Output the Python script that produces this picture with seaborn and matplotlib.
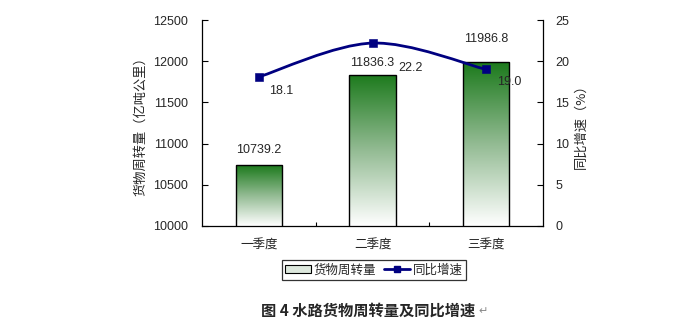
import numpy as np
import pandas as pd
import matplotlib
matplotlib.use("Agg")
import matplotlib.pyplot as plt
import seaborn as sns
from matplotlib.path import Path
from matplotlib.patches import PathPatch, Patch
from matplotlib.lines import Line2D
from matplotlib.colors import LinearSegmentedColormap

categories = ["一季度", "二季度", "三季度"]
volume = [10739.2, 11836.3, 11986.8]
growth = [18.1, 22.2, 19.0]
left_ticks = [10000, 10500, 11000, 11500, 12000, 12500]
right_ticks = [0, 5, 10, 15, 20, 25]

sns.set_theme(style="white")
plt.rcParams['font.family'] = ['Liberation Sans', 'Noto Sans CJK SC', 'DejaVu Sans']
cjk = ['Noto Sans CJK SC', 'DejaVu Sans']

fig = plt.figure(figsize=(6.82, 3.29), dpi=100)
ax = fig.add_axes([0.2962, 0.3131, 0.5, 0.6261])

df = pd.DataFrame({"cat": categories, "vol": volume})
sns.barplot(data=df, x="cat", y="vol", ax=ax, width=0.41, color="white",
            edgecolor="black", linewidth=1.0, zorder=2)
ax.set_ylim(10000, 12500)
ax.set_xlim(-0.5, 2.5)

cmap = LinearSegmentedColormap.from_list("g", ["#ffffff", "#93bb93", "#1c7a1c"])
grad = np.linspace(0, 1, 256).reshape(-1, 1)
for p in ax.patches:
    x0, w = p.get_x(), p.get_width()
    top = p.get_y() + p.get_height()
    im = ax.imshow(grad, extent=[x0, x0 + w, 10000, top], origin="lower",
                   aspect="auto", cmap=cmap, zorder=2.5)
    im.set_clip_path(p)
    p.set_facecolor("none")
    p.set_zorder(3)
ax.set_xlim(-0.5, 2.5)
ax.set_ylim(10000, 12500)

ax.set_yticks(left_ticks)
ax.set_yticklabels([str(t) for t in left_ticks], fontsize=9)
ax.tick_params(axis="y", direction="in", length=4, width=0.8, color="black", pad=10, left=True)
ax.set_xticks(range(len(categories)))
ax.set_xticklabels(categories, fontsize=9, family=cjk)
ax.tick_params(axis="x", length=0, pad=9)
ax.set_xticks([0.5, 1.5], minor=True)
ax.tick_params(axis="x", which="minor", direction="in", length=3, width=0.8, color="black", bottom=True)
ax.set_xlabel("")
ax.set_ylabel("货物周转量（亿吨公里）", fontsize=9.5, family=cjk, labelpad=4)
for s in ["left", "bottom"]:
    ax.spines[s].set_color("black"); ax.spines[s].set_linewidth(0.9)
ax.spines["top"].set_visible(False)
ax.spines["right"].set_visible(False)

bar_off = [15, 12, 23]
for i, v in enumerate(volume):
    ax.annotate(f"{v:.1f}", (i, v), xytext=(0, bar_off[i]), textcoords="offset pixels",
                ha="center", va="center", fontsize=9, zorder=5)

ax2 = ax.twinx()
ax2.set_ylim(0, 25)
ax2.set_yticks(right_ticks)
ax2.set_yticklabels([str(t) for t in right_ticks], fontsize=9)
ax2.tick_params(axis="y", direction="in", length=4, width=0.8, color="black", pad=9, right=True)
ax2.set_ylabel("同比增速（%）", fontsize=9.5, family=cjk, labelpad=4)
ax2.spines["right"].set_color("black"); ax2.spines["right"].set_linewidth(0.9)
for s in ["top", "left", "bottom"]:
    ax2.spines[s].set_visible(False)
ax2.grid(False); ax.grid(False)

# smooth line (Excel-like Bezier smoothing computed from the data)
xs = np.arange(len(growth), dtype=float)
pts = np.column_stack([xs, growth])
ext = np.vstack([pts[0], pts, pts[-1]])
verts = [tuple(pts[0])]
codes = [Path.MOVETO]
for i in range(len(pts) - 1):
    p0, p1, p2, p3 = ext[i], ext[i + 1], ext[i + 2], ext[i + 3]
    c1 = p1 + (p2 - p0) / 6
    c2 = p2 - (p3 - p1) / 6
    verts += [tuple(c1), tuple(c2), tuple(p2)]
    codes += [Path.CURVE4] * 3
ax2.add_patch(PathPatch(Path(verts, codes), facecolor="none", edgecolor="#000080", lw=2, zorder=4))
sns.scatterplot(x=xs, y=growth, ax=ax2, marker="s", s=28, color="#000080",
                edgecolor="#000080", zorder=5, legend=False)

line_off = [(22, -14), (38, -25), (23, -13)]
for i, g in enumerate(growth):
    ax2.annotate(f"{g:.1f}", (i, g), xytext=line_off[i], textcoords="offset pixels",
                 ha="center", va="center", fontsize=9, zorder=6)

handles = [Patch(facecolor="#dde8dd", edgecolor="black", linewidth=0.8),
           Line2D([0], [0], color="#000080", lw=2, marker="s", markersize=5)]
leg = fig.legend(handles, ["货物周转量", "同比增速"], loc="center",
                 bbox_to_anchor=(0.548, 0.179), ncol=2, frameon=True, fancybox=False,
                 prop={"family": cjk, "size": 9}, handlelength=2.1, handletextpad=0.2,
                 columnspacing=0.6, borderpad=0.25, handleheight=0.6)
leg.get_frame().set_edgecolor("black")
leg.get_frame().set_linewidth(0.9)

fig.text(0.54, 0.055, "图 4 水路货物周转量及同比增速", ha="center", va="center",
         fontsize=11, fontweight="bold", family=cjk)
fig.text(0.701, 0.055, "↵", ha="left", va="center", fontsize=8, color="#888888",
         family=['DejaVu Sans'])

fig.savefig("out.png", dpi=100)
